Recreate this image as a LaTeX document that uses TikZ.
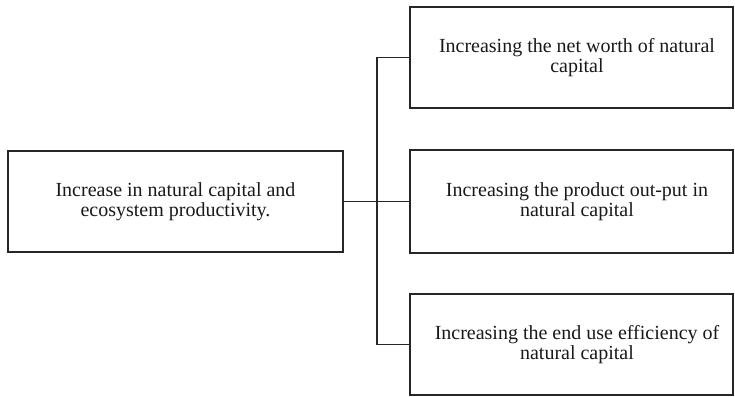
\documentclass[tikz,border=0pt]{standalone}
\usepackage{fontspec}
\setmainfont{Liberation Serif}
\begin{document}
\begin{tikzpicture}[x=1pt,y=-1pt,
  box/.style={draw=black!85, line width=1.8pt, rectangle, inner sep=0pt,
    align=center, font=\fontsize{20}{20}\selectfont, text=black!90},
  link/.style={draw=black!85, line width=1.9pt}]
\useasboundingbox (0,0) rectangle (735,396);
% source box on the left
\node[box, minimum width=335pt, minimum height=101pt] (src) at (175.5,201.5)
  {Increase in natural capital and\\ecosystem productivity.};
% three outcome boxes on the right
\node[box, minimum width=323pt, minimum height=101pt] (a) at (571.5,57.5)
  {\hspace*{11pt}Increasing the net worth of natural\\\hspace*{11pt}capital};
\node[box, minimum width=323pt, minimum height=103pt] (b) at (571.5,201.5)
  {\hspace*{11pt}Increasing the product out-put in\\\hspace*{11pt}natural capital};
\node[box, minimum width=323pt, minimum height=101pt] (c) at (571.5,344.5)
  {\hspace*{11pt}Increasing the end use efficiency of\\\hspace*{11pt}natural capital};
% connectors
\coordinate (trunk) at (377,201.5);
\draw[link] (src.east) -- (b.west);
\draw[link] (a.west) -- (a.west -| trunk) -- (c.west -| trunk) -- (c.west);
\end{tikzpicture}
\end{document}
